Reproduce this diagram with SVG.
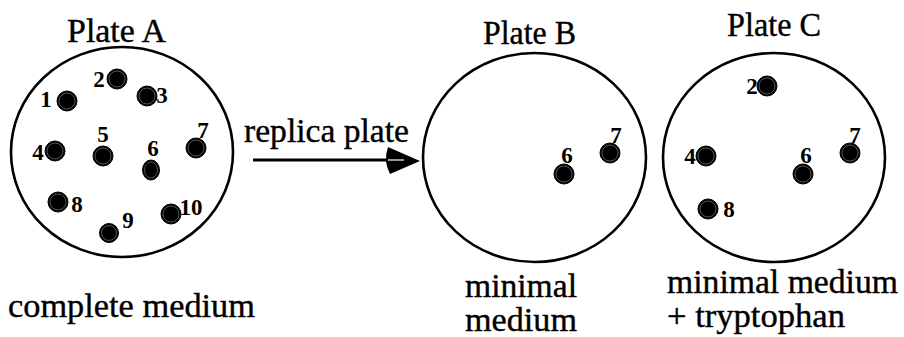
<svg xmlns="http://www.w3.org/2000/svg" width="904" height="337" viewBox="0 0 904 337">
<defs>
<style>
.plate{fill:#fff;stroke:#000;stroke-width:2.6}
.col{fill:#000;stroke:#000;stroke-width:1}
.ring{fill:none;stroke:#777;stroke-width:0.7}
</style>
</defs>
<rect width="904" height="337" fill="#fff"/>
<g id="plateA">
<ellipse class="plate" cx="122" cy="152" rx="111" ry="105"/>
<g id="A-colonies">
<circle class="col" cx="67" cy="101" r="10"/><circle class="ring" cx="67" cy="101" r="8"/>
<circle class="col" cx="117" cy="79" r="10"/><circle class="ring" cx="117" cy="79" r="8"/>
<circle class="col" cx="147" cy="96" r="10"/><circle class="ring" cx="147" cy="96" r="8"/>
<circle class="col" cx="55" cy="151" r="10"/><circle class="ring" cx="55" cy="151" r="8"/>
<circle class="col" cx="103" cy="156" r="10"/><circle class="ring" cx="103" cy="156" r="8"/>
<ellipse class="col" cx="151" cy="170" rx="8.5" ry="10"/><ellipse class="ring" cx="151" cy="170" rx="6.5" ry="8"/>
<circle class="col" cx="196" cy="148" r="10"/><circle class="ring" cx="196" cy="148" r="8"/>
<circle class="col" cx="58" cy="202" r="10"/><circle class="ring" cx="58" cy="202" r="8"/>
<circle class="col" cx="109" cy="233" r="9.5"/><circle class="ring" cx="109" cy="233" r="7.5"/>
<circle class="col" cx="171" cy="214" r="10"/><circle class="ring" cx="171" cy="214" r="8"/>
</g>
<g font-family="Liberation Serif, Times New Roman, serif" font-weight="bold" font-size="23" text-anchor="middle" fill="#000">
<text x="46" y="107">1</text>
<text x="99" y="87">2</text>
<text x="162" y="103">3</text>
<text x="38" y="160">4</text>
<text x="103" y="142">5</text>
<text x="153" y="156">6</text>
<text x="203" y="138">7</text>
<text x="77" y="212">8</text>
<text x="128" y="228">9</text>
<text x="191" y="215">10</text>
</g>
<g font-family="Liberation Serif, Times New Roman, serif" font-size="34" fill="#000" stroke="#000" stroke-width="0.4">
<text x="67" y="42" textLength="99" lengthAdjust="spacingAndGlyphs">Plate A</text>
<text x="8" y="317" textLength="247" lengthAdjust="spacingAndGlyphs">complete medium</text>
</g>
</g>
<g id="plateB">
<ellipse class="plate" cx="534.5" cy="157.5" rx="111.5" ry="104.5"/>
<circle class="col" cx="564" cy="174" r="10"/><circle class="ring" cx="564" cy="174" r="8"/>
<circle class="col" cx="610" cy="153" r="10"/><circle class="ring" cx="610" cy="153" r="8"/>
<g font-family="Liberation Serif, Times New Roman, serif" font-weight="bold" font-size="23" text-anchor="middle" fill="#000">
<text x="567" y="163">6</text>
<text x="616" y="143">7</text>
</g>
<g font-family="Liberation Serif, Times New Roman, serif" font-size="34" fill="#000" stroke="#000" stroke-width="0.4">
<text x="483" y="44" textLength="93" lengthAdjust="spacingAndGlyphs">Plate B</text>
<text x="465" y="297" textLength="112" lengthAdjust="spacingAndGlyphs">minimal</text>
<text x="465" y="331" textLength="112" lengthAdjust="spacingAndGlyphs">medium</text>
</g>
</g>
<g id="plateC">
<ellipse class="plate" cx="774" cy="157.5" rx="111" ry="104.5"/>
<circle class="col" cx="767" cy="86" r="10"/><circle class="ring" cx="767" cy="86" r="8"/>
<circle class="col" cx="706" cy="156" r="10"/><circle class="ring" cx="706" cy="156" r="8"/>
<circle class="col" cx="803" cy="174" r="10"/><circle class="ring" cx="803" cy="174" r="8"/>
<circle class="col" cx="850" cy="153" r="10"/><circle class="ring" cx="850" cy="153" r="8"/>
<circle class="col" cx="708" cy="209" r="10"/><circle class="ring" cx="708" cy="209" r="8"/>
<g font-family="Liberation Serif, Times New Roman, serif" font-weight="bold" font-size="23" text-anchor="middle" fill="#000">
<text x="752" y="94">2</text>
<text x="690" y="164">4</text>
<text x="806" y="163">6</text>
<text x="855" y="143">7</text>
<text x="729" y="217">8</text>
</g>
<g font-family="Liberation Serif, Times New Roman, serif" font-size="34" fill="#000" stroke="#000" stroke-width="0.4">
<text x="727" y="36" textLength="94" lengthAdjust="spacingAndGlyphs">Plate C</text>
<text x="667" y="293" textLength="231" lengthAdjust="spacingAndGlyphs">minimal medium</text>
<text x="667" y="327" textLength="178" lengthAdjust="spacingAndGlyphs">+ tryptophan</text>
</g>
</g>
<g id="connectors">
<line x1="253" y1="160" x2="395" y2="160" stroke="#000" stroke-width="3"/>
<path d="M420,161 L388,147 Q383,161 390,174 Z" fill="#000"/>
<line x1="388" y1="160" x2="404" y2="160" stroke="#fff" stroke-width="1.2"/>
<text x="244" y="142" font-family="Liberation Serif, Times New Roman, serif" font-size="34" fill="#000" stroke="#000" stroke-width="0.4" textLength="165" lengthAdjust="spacingAndGlyphs">replica plate</text>
</g>
</svg>
